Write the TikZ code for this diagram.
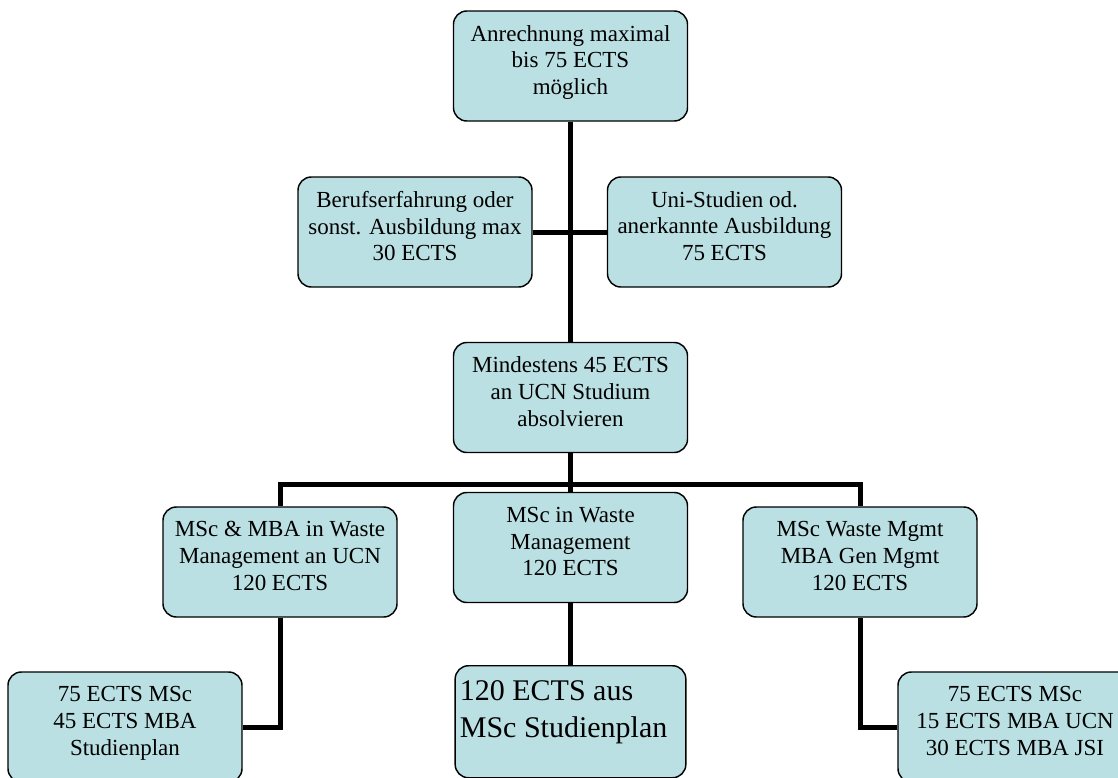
\documentclass[tikz,border=0pt]{standalone}
\usepackage{fontspec}
\setmainfont{Liberation Serif}
\usetikzlibrary{positioning}
\definecolor{boxcyan}{RGB}{187,224,227}

\begin{document}
\begin{tikzpicture}[x=0.75pt, y=-0.75pt, line width=3.75pt, font=\fontsize{17.25}{20}\selectfont]
        \tikzstyle{block} = [rectangle, draw=black, line width=1.1pt, fill=boxcyan,
                            align=center, rounded corners=10pt, inner sep=2pt,
                            minimum width=175.5pt, minimum height=82.5pt,
                            execute at end node={\rule[-9pt]{0pt}{0pt}}]
        \tikzstyle{bigblock} = [block, anchor=north, align=flush left, text width=166pt,
                            inner xsep=3.5pt, inner ysep=10.5pt, text height=15.75pt, text depth=47.25pt,
                            minimum width=172.5pt, execute at end node={},
                            font=\fontsize{22.5}{27.75}\selectfont]

        \useasboundingbox (0,0) rectangle (1118,778);

        % Knoten
        \node[block] (anrechnung) at (570.5,66) {Anrechnung maximal\\bis 75 ECTS\\möglich};
        \node[block] (beruf) at (415,232) {Berufserfahrung oder\\sonst. Ausbildung max\\30 ECTS};
        \node[block] (uni) at (724.5,232) {Uni-Studien od.\\anerkannte Ausbildung\\75 ECTS};
        \node[block] (mindestens) at (570.5,397.5) {Mindestens 45 ECTS\\an UCN Studium\\absolvieren};
        \node[block] (msc_mba) at (280,562) {MSc \& MBA in Waste\\Management an UCN\\120 ECTS};
        \node[block] (msc_wm) at (570.5,547.5) {MSc in Waste\\Management\\120 ECTS};
        \node[block] (msc_gen) at (860,562) {MSc Waste Mgmt\\MBA Gen Mgmt\\120 ECTS};
        \node[block] (plan_mba) at (125,727) {75 ECTS MSc\\45 ECTS MBA\\Studienplan};
        \node[bigblock] (plan_msc) at (570.5,665) {120 ECTS aus\\MSc Studienplan};
        \node[block] (plan_jsi) at (1015,727) {75 ECTS MSc\\15 ECTS MBA UCN\\30 ECTS MBA JSI};
        \coordinate (bus) at (570.5,484);

        % Linien
        \draw (anrechnung) -- (mindestens);
        \draw (beruf) -- (uni);
        \draw (mindestens) -- (msc_wm);
        \draw (msc_mba.north) |- (bus) -| (msc_gen.north);
        \draw (msc_wm) -- (plan_msc);
        \draw (msc_mba.south) |- (plan_mba.east);
        \draw (msc_gen.south) |- (plan_jsi.west);
    \end{tikzpicture}
\end{document}
